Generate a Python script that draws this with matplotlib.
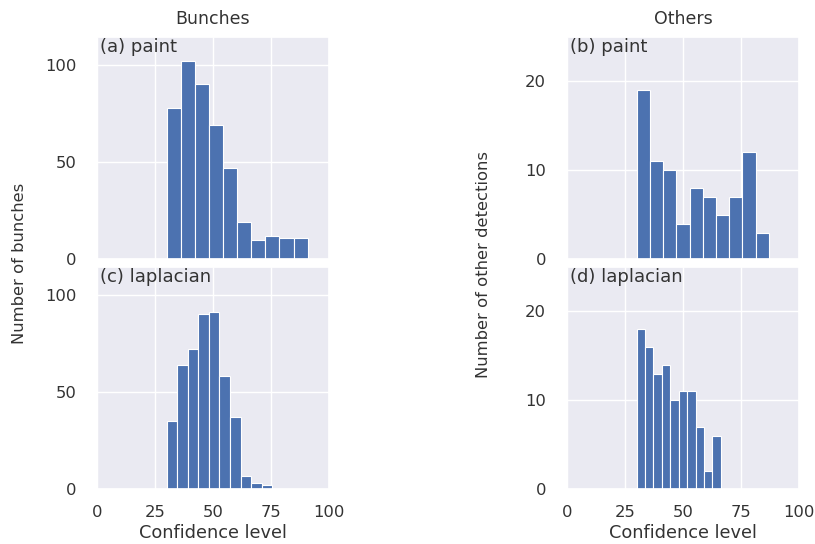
import matplotlib
matplotlib.use('Agg')
import matplotlib.pyplot as plt
import numpy as np
import seaborn as sns

# bin edges (start, width) and counts
paint_bunch_counts = [78, 102, 90, 69, 47, 19, 10, 12, 11, 11]
paint_bunch_bins = (30.0, 6.08)
lap_bunch_counts = [35, 64, 72, 90, 91, 58, 37, 7, 3, 2]
lap_bunch_bins = (30.0, 4.56)
paint_other_counts = [19, 11, 10, 4, 8, 7, 5, 7, 12, 3]
paint_other_bins = (30.0, 5.7)
lap_other_counts = [18, 16, 13, 14, 10, 11, 11, 7, 2, 6]
lap_other_bins = (30.0, 3.63)

x_ticks = [0, 25, 50, 75, 100]

sns.set_theme(style='darkgrid')
plt.rcParams['font.family'] = ['DejaVu Sans']
txt = '#333333'

fig = plt.figure(figsize=(8.15, 5.44), dpi=100)

W, H = 0.2847, 0.4092
ax_a = fig.add_axes([0.119, 0.5233, W, H])
ax_c = fig.add_axes([0.119, 0.1006, W, H])
ax_b = fig.add_axes([0.6957, 0.5233, W, H])
ax_d = fig.add_axes([0.6957, 0.1006, W, H])

panels = [
    (ax_a, paint_bunch_counts, paint_bunch_bins, '(a) paint', 114.4, [0, 50, 100]),
    (ax_c, lap_bunch_counts, lap_bunch_bins, '(c) laplacian', 114.4, [0, 50, 100]),
    (ax_b, paint_other_counts, paint_other_bins, '(b) paint', 25.0, [0, 10, 20]),
    (ax_d, lap_other_counts, lap_other_bins, '(d) laplacian', 25.0, [0, 10, 20]),
]

for ax, counts, (start, width), label, ytop, yticks in panels:
    edges = start + width * np.arange(len(counts) + 1)
    ax.hist(edges[:-1], bins=edges, weights=counts, color='#4C72B0',
            edgecolor='white', linewidth=0.8)
    ax.set_xlim(0, 100)
    ax.set_ylim(0, ytop)
    ax.set_yticks(yticks)
    ax.set_xticks(x_ticks)
    ax.tick_params(labelsize=11.8, colors=txt)
    ax.tick_params(axis='y', pad=9)
    ax.tick_params(axis='x', pad=5)
    ax.text(0.015, 0.995, label, transform=ax.transAxes, ha='left', va='top',
            fontsize=13, color=txt)

for ax in (ax_a, ax_b):
    ax.set_xticklabels([])

ax_a.set_title('Bunches', fontsize=12.5, pad=9, color=txt)
ax_b.set_title('Others', fontsize=12.5, pad=9, color=txt)
ax_c.set_xlabel('Confidence level', fontsize=12.8, color=txt, labelpad=3)
ax_d.set_xlabel('Confidence level', fontsize=12.8, color=txt, labelpad=3)

fig.text(20 / 815, 1 - 263 / 544, 'Number of bunches', rotation=90,
         ha='center', va='center', fontsize=11.8, color=txt)
fig.text(484 / 815, 1 - 264 / 544, 'Number of other detections', rotation=90,
         ha='center', va='center', fontsize=11.8, color=txt)

fig.savefig('out.png', dpi=100)
